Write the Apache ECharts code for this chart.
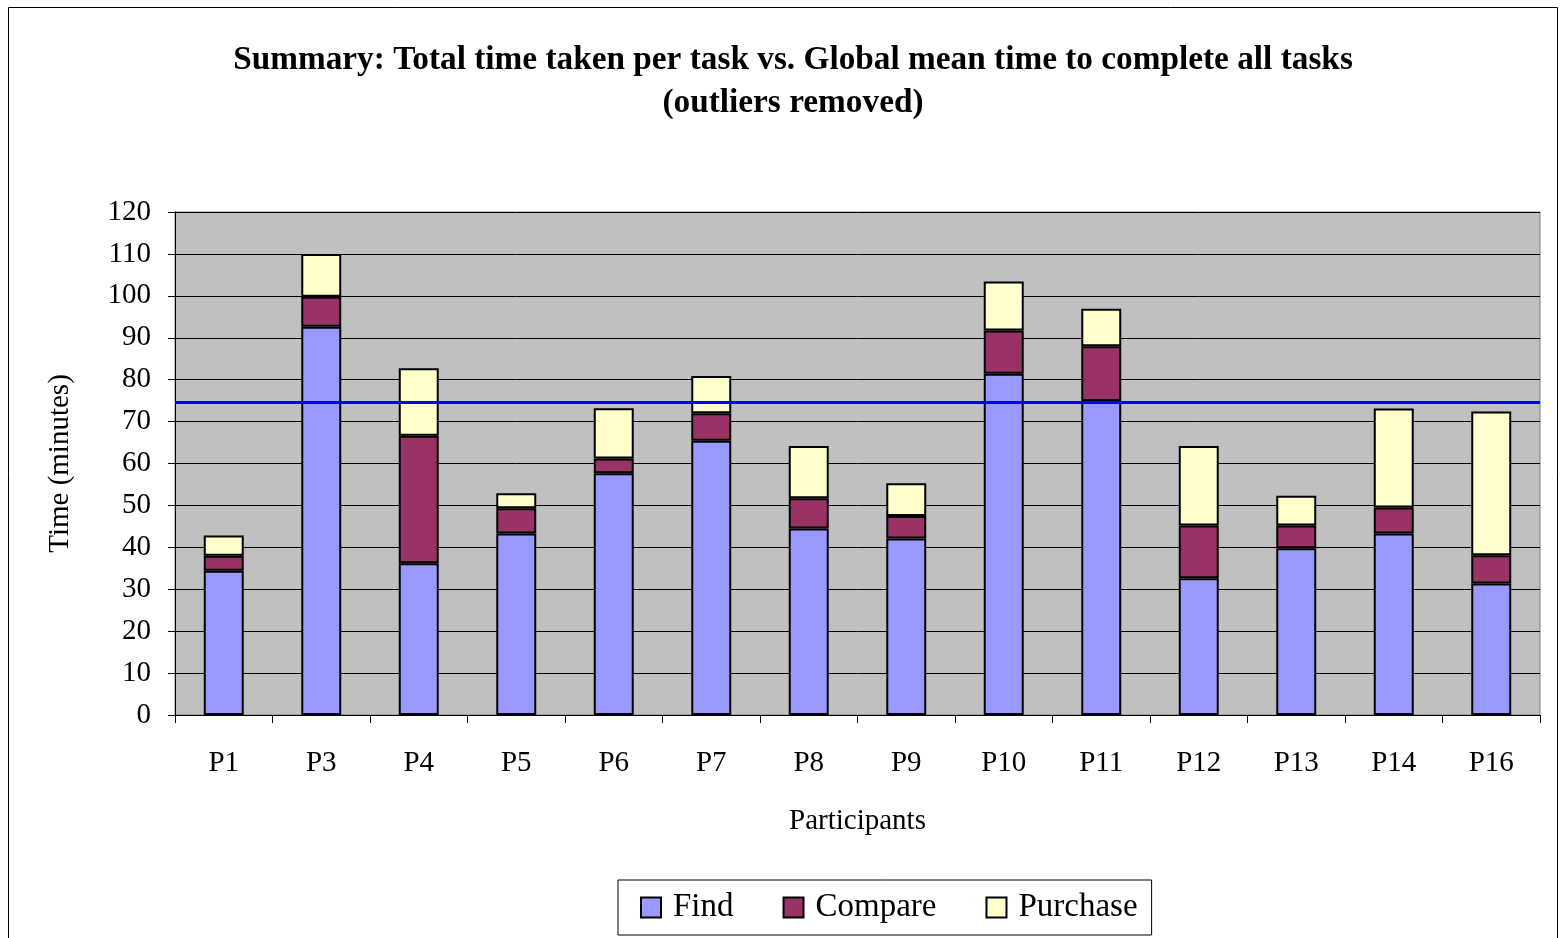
<!DOCTYPE html>
<html>
<head>
<meta charset="utf-8">
<script src="https://cdn.jsdelivr.net/npm/echarts@6/dist/echarts.min.js"></script>
<style>
  html, body { margin: 0; padding: 0; background: #fff; }
  #ech { width: 1560px; height: 938px; }
</style>
</head>
<body>
<div id="ech"></div>
<script>
var participants = ['P1', 'P3', 'P4', 'P5', 'P6', 'P7', 'P8', 'P9', 'P10', 'P11', 'P12', 'P13', 'P14', 'P16'];
var findTimes = [34.4, 92.6, 36.2, 43.3, 57.7, 65.4, 44.5, 42.1, 81.4, 74.9, 32.6, 39.8, 43.3, 31.4];
var compareTimes = [3.6, 7.2, 30.4, 6.0, 3.5, 6.6, 7.2, 5.4, 10.3, 13.1, 12.6, 5.4, 6.2, 6.7];
var purchaseTimes = [4.8, 10.2, 16.1, 3.6, 12.0, 8.9, 12.5, 7.8, 11.7, 8.9, 19.0, 7.1, 23.6, 34.3];
var globalMean = 74.6;

var serif = "'Liberation Serif', 'Times New Roman', serif";
var myChart = echarts.init(document.getElementById('ech'));

function barSeries(name, data, color) {
    return {
        name: name,
        type: 'bar',
        stack: 'total',
        barWidth: '41%',
        data: data,
        itemStyle: { color: color, borderColor: '#000', borderWidth: 2 },
        emphasis: { disabled: true }
    };
}

var series = [
    barSeries('Find', findTimes, '#9999FF'),
    barSeries('Compare', compareTimes, '#993366'),
    barSeries('Purchase', purchaseTimes, '#FFFFCC')
];
// global mean line across the plot
series[2].markLine = {
    silent: true,
    symbol: 'none',
    label: { show: false },
    lineStyle: { color: '#0000FF', width: 3, type: 'solid' },
    data: [{ yAxis: globalMean }]
};

var option = {
    animation: false,
    graphic: [{
        type: 'rect',
        shape: { x: 8.5, y: 7.5, width: 1549, height: 940 },
        style: { fill: 'none', stroke: '#000', lineWidth: 1 },
        silent: true
    }],
    title: {
        text: 'Summary: Total time taken per task vs. Global mean time to complete all tasks\n(outliers removed)',
        left: 788,
        textAlign: 'center',
        top: 34,
        textStyle: {
            fontFamily: serif,
            fontSize: 33.3,
            fontWeight: 'bold',
            color: '#000',
            lineHeight: 43
        }
    },
    legend: {
        data: ['Find', 'Compare', 'Purchase'],
        bottom: 3,
        left: 618,
        icon: 'rect',
        itemWidth: 20,
        itemHeight: 20,
        itemGap: 49,
        padding: [11, 14, 11, 22],
        borderColor: '#000',
        borderWidth: 1,
        selectedMode: false,
        textStyle: { fontFamily: serif, fontSize: 33, color: '#000', padding: [0, 0, 0, 7] }
    },
    grid: {
        left: 175,
        right: 20,
        top: 212,
        bottom: 223,
        show: true,
        backgroundColor: '#C0C0C0',
        borderColor: '#808080',
        borderWidth: 1
    },
    xAxis: {
        type: 'category',
        data: participants,
        name: 'Participants',
        nameLocation: 'middle',
        nameGap: 92,
        nameTextStyle: { fontFamily: serif, fontSize: 29, color: '#000' },
        axisLine: { lineStyle: { color: '#000', width: 1 } },
        axisTick: { show: true, alignWithLabel: false, length: 8, lineStyle: { color: '#000' } },
        axisLabel: { fontFamily: serif, fontSize: 29, color: '#000', margin: 34 }
    },
    yAxis: {
        type: 'value',
        min: 0,
        max: 120,
        interval: 10,
        name: 'Time (minutes)',
        nameLocation: 'middle',
        nameGap: 100,
        nameTextStyle: { fontFamily: serif, fontSize: 29, color: '#000' },
        axisLine: { show: true, lineStyle: { color: '#000', width: 1 } },
        axisTick: { show: true, length: 7, lineStyle: { color: '#000' } },
        axisLabel: { fontFamily: serif, fontSize: 29, color: '#000', margin: 24 },
        splitLine: { show: true, lineStyle: { color: '#000', width: 1 } }
    },
    series: series
};
myChart.setOption(option);
</script>
</body>
</html>
